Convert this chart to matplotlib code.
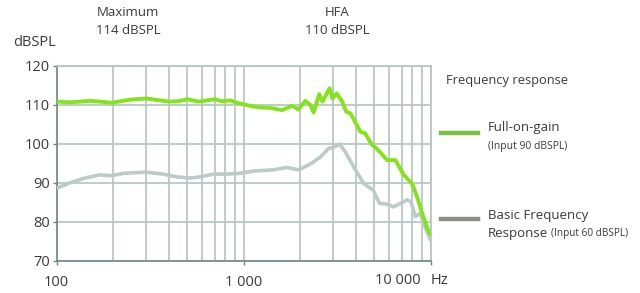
import numpy as np
import matplotlib.pyplot as plt

plt.rcParams['font.family'] = ['Open Sans', 'DejaVu Sans']

# Full-on-gain (Input 90 dBSPL)
freq_fog = [100, 118, 151, 197, 247, 300, 400, 448, 500, 573, 700, 765, 850, 923,
            1085, 1227, 1387, 1604, 1813, 1968, 2139, 2280, 2369, 2541, 2643, 2885,
            2990, 3150, 3370, 3540, 3724, 3990, 4210, 4460, 4865, 5150, 5855, 6487,
            7186, 7968, 8474, 9015, 9775, 10000]
spl_fog = [110.8, 110.6, 111.0, 110.5, 111.3, 111.6, 110.8, 110.9, 111.4, 110.8, 111.4, 110.9, 111.1, 110.5,
           109.7, 109.3, 109.2, 108.6, 109.7, 108.8, 111.0, 109.9, 108.0, 112.7, 110.8, 114.2,
           111.6, 112.9, 110.8, 108.2, 107.8, 105.2, 103.1, 102.7, 99.7, 98.8, 95.8, 95.8,
           92.0, 89.8, 86.4, 82.2, 77.4, 76.8]

# Basic Frequency Response (Input 60 dBSPL)
freq_bfr = [100, 118, 139, 170, 197, 227, 300, 372, 439, 517, 585, 690, 812, 959,
            1130, 1446, 1700, 1968, 2280, 2567, 2850, 3030, 3270, 3500, 3880, 4390,
            4940, 5330, 5855, 6340, 6900, 7500, 7870, 8290, 8800, 9340, 10000]
spl_bfr = [88.6, 90.0, 91.1, 92.0, 91.8, 92.4, 92.7, 92.2, 91.5, 91.2, 91.5, 92.2, 92.2, 92.4,
           93.0, 93.3, 93.9, 93.3, 94.8, 96.5, 98.8, 99.1, 99.9, 97.9, 94.1, 89.8,
           88.1, 84.7, 84.5, 83.8, 84.7, 85.6, 85.1, 81.3, 82.2, 78.7, 75.3]

y_ticks = [70, 80, 90, 100, 110, 120]

txt = '#3a3a3a'
grid_c = '#b3c4c1'
spine_c = '#6f8784'

fig = plt.figure(figsize=(6.4, 2.93), dpi=100)
ax = fig.add_axes([56.7 / 640, 1 - 260.7 / 293, (430.5 - 56.7) / 640, (260.7 - 65.7) / 293])

ax.set_xscale('log')
ax.set_xlim(100, 10000)
ax.set_ylim(70, 120)

ax.set_xticks([100, 1000, 10000])
ax.set_xticklabels(['100', '1 000', ''])
ax.set_xticks([m * d for d in (100, 1000) for m in range(2, 10)], minor=True)
ax.set_xticklabels([], minor=True)
ax.set_yticks(y_ticks)

ax.grid(True, which='both', axis='x', color=grid_c, linewidth=1.2)
ax.grid(True, which='major', axis='y', color=grid_c, linewidth=1.2)
ax.tick_params(axis='both', which='major', length=3, width=1, color=spine_c,
               labelsize=10.5, labelcolor=txt, pad=2)
ax.tick_params(axis='x', which='major', pad=7)
ax.tick_params(axis='x', which='minor', length=0)

for s in ['top', 'right']:
    ax.spines[s].set_color(grid_c)
    ax.spines[s].set_linewidth(1.2)
for s in ['left', 'bottom']:
    ax.spines[s].set_color(spine_c)
    ax.spines[s].set_linewidth(1.2)

ax.plot(freq_bfr, spl_bfr, color='#bccbc8', linewidth=2.6, solid_capstyle='round', zorder=3)
ax.plot(freq_fog, spl_fog, color='#84e41c', linewidth=2.8, solid_capstyle='round', zorder=4)

# 10 000 Hz label
fig.text(398 / 640, 1 - 280 / 293, '10 000', ha='center', va='center', fontsize=10.5, color=txt)
fig.text(439 / 640, 1 - 280 / 293, 'Hz', ha='center', va='center', fontsize=10.5, color=txt)

fig.text(35 / 640, 1 - 43 / 293, 'dBSPL', ha='center', va='center', fontsize=10.5, color=txt)

fig.text(128 / 640, 1 - 13 / 293, 'Maximum', ha='center', va='center', fontsize=9.5, color=txt)
fig.text(128 / 640, 1 - 31 / 293, '114 dBSPL', ha='center', va='center', fontsize=9.5, color=txt)
fig.text(337 / 640, 1 - 13 / 293, 'HFA', ha='center', va='center', fontsize=9.5, color=txt)
fig.text(337 / 640, 1 - 31 / 293, '110 dBSPL', ha='center', va='center', fontsize=9.5, color=txt)

# legend
fig.text(446 / 640, 1 - 80 / 293, 'Frequency response', ha='left', va='center', fontsize=9.3, color=txt)
fig.add_artist(plt.Line2D([441 / 640, 478 / 640], [1 - 133 / 293] * 2, color='#7ac143', linewidth=3.2))
fig.text(488 / 640, 1 - 127 / 293, 'Full-on-gain', ha='left', va='center', fontsize=9.5, color=txt)
fig.text(488 / 640, 1 - 146 / 293, '(Input 90 dBSPL)', ha='left', va='center', fontsize=7.5, color=txt)
fig.add_artist(plt.Line2D([441 / 640, 478 / 640], [1 - 219 / 293] * 2, color='#8e8c84', linewidth=3.2))
fig.text(488 / 640, 1 - 215 / 293, 'Basic Frequency', ha='left', va='center', fontsize=9.5, color=txt)
fig.text(488 / 640, 1 - 233 / 293, 'Response', ha='left', va='center', fontsize=9.5, color=txt)
fig.text(551 / 640, 1 - 233.5 / 293, '(Input 60 dBSPL)', ha='left', va='center', fontsize=7.2, color=txt)

fig.savefig('out.png', dpi=100)
